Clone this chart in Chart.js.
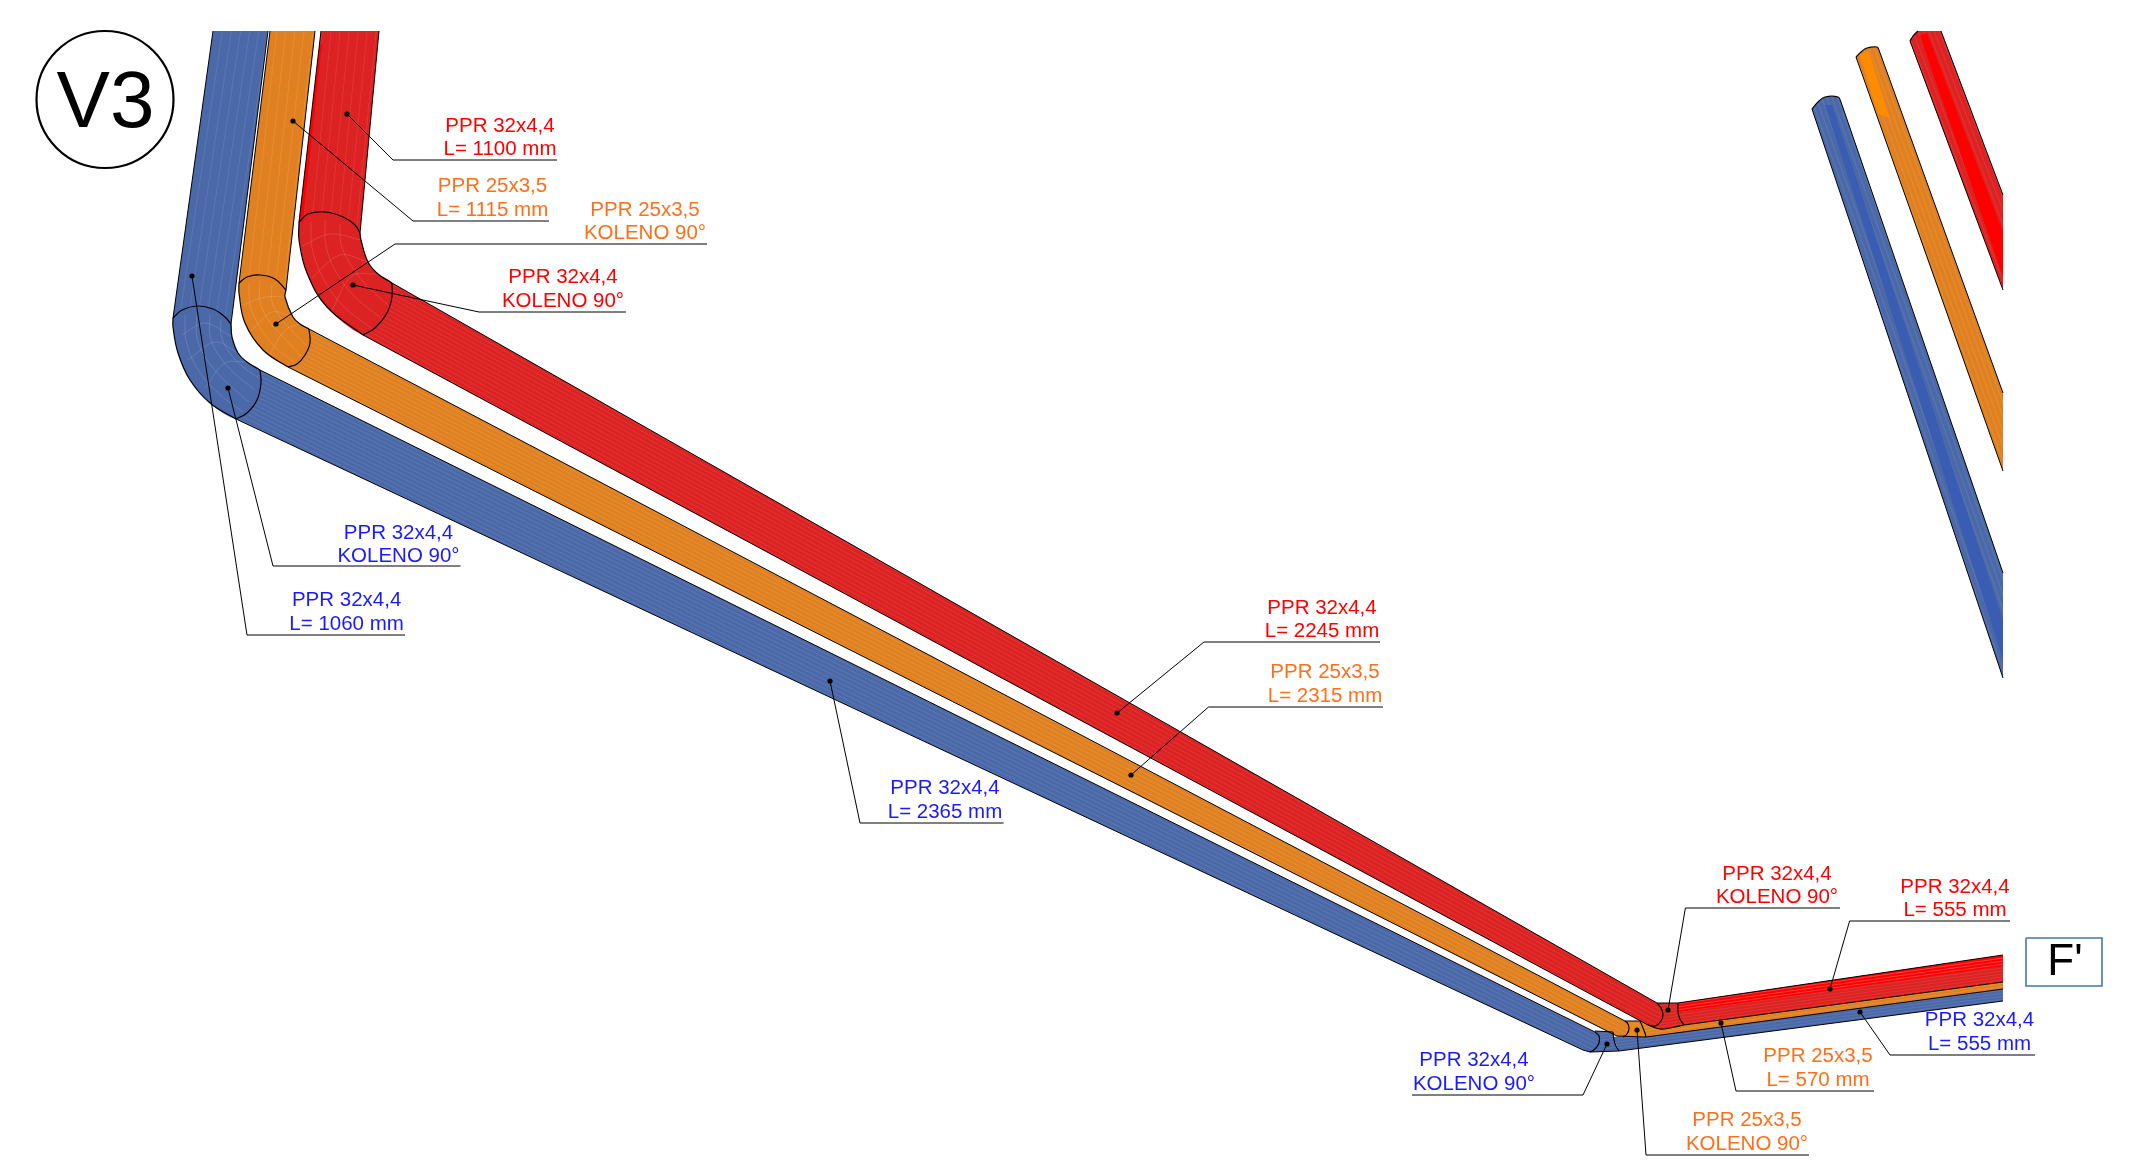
<!DOCTYPE html>
<html><head><meta charset="utf-8">
<style>html,body{margin:0;padding:0;background:#fff}canvas{display:block}</style>
<script src="https://cdn.jsdelivr.net/npm/chart.js@4/dist/chart.umd.min.js"></script>
</head><body><canvas id="c" width="2146" height="1163"></canvas>
<script>
// ---- label texts
const labelLine1 = ["PPR 32x4,4","PPR 25x3,5","PPR 25x3,5","PPR 32x4,4","PPR 32x4,4","PPR 32x4,4","PPR 32x4,4","PPR 25x3,5","PPR 32x4,4","PPR 32x4,4","PPR 32x4,4","PPR 32x4,4","PPR 25x3,5","PPR 32x4,4","PPR 25x3,5"];
const labelLine2 = ["L= 1100 mm","L= 1115 mm","KOLENO 90°","KOLENO 90°","KOLENO 90°","L= 1060 mm","L= 2245 mm","L= 2315 mm","L= 2365 mm","KOLENO 90°","L= 555 mm","L= 555 mm","L= 570 mm","KOLENO 90°","KOLENO 90°"];
const labelKind  = ["red","orange","orange","red","blue","blue","red","orange","blue","red","red","blue","orange","blue","orange"];
const labelCentreX = [500,492.5,645,563,398.5,346.6,1322,1325,945,1777,1955,1979.5,1818,1474,1747];
const labelBase1Y  = [132,192,215.5,283,539,606,613.5,678,793.5,880,893,1026,1062,1066,1126];
const labelBase2Y  = [155,216,239,307,562,630,637,702,818,903,916,1050,1086,1090,1150];
// ---- leaders: dot -> knee -> end of underline
const leaderDots  = [[347,114],[293,121],[276,324],[353,285],[228,388],[192,276],[1117,713],[1131,775],[830,681],[1668,1010],[1830,989],[1860,1012],[1721,1023],[1607,1044],[1637,1030]];
const leaderKnees = [[393,160],[413,221],[395,244],[479,312],[273,566],[247,635],[1204,642],[1208.5,707],[860,823],[1685.4,908],[1849.6,921],[1890,1055],[1736,1091],[1583,1095],[1646,1155]];
const leaderEnds  = [[557,160],[549,221],[707,244],[626,312],[460.5,566],[405,635],[1380,642],[1383,707],[1003.5,823],[1840,908],[2010,921],[2035,1055],[1874,1091],[1412,1095],[1809,1155]];
// ---- pipe outlines
const blueTop  = [[213,31],[268,31],[231,324],[225,317],[213,309],[197,306],[182,310],[173,318]];
const orangeTop= [[270,31],[315,31],[286,290],[275,279],[260,275],[247,277],[239,283]];
const redTop   = [[321,31],[379,31],[360,233],[355,225],[343,217],[325,212],[308,214],[299,222]];
const blueBend  = [[173,318],[182,310],[197,306],[213,309],[225,317],[231,324],[232,337],[238,353],[247,362],[260,370],[261,383],[257,400],[247,413],[236,419],[210,403],[190,380],[178,353],[173,327]];
const orangeBend= [[239,283],[247,277],[260,275],[275,279],[286,290],[285,297],[293,317],[300,324],[309,329],[310,343],[305,355],[297,364],[288,367],[263,350],[245,323],[239,293]];
const redBend   = [[299,222],[308,214],[325,212],[343,217],[355,225],[360,233],[361,240],[368,262],[378,274],[392,283],[392,297],[387,313],[375,328],[363,335],[327,307],[307,273],[299,240]];
const blueDiag  = [[260,370],[1595,1032],[1599,1036],[1599,1043],[1595,1049],[1590,1052],[1583,1050],[236,419],[247,413],[257,400],[261,383]];
const orangeDiag= [[309,329],[1625,1021],[1628,1024],[1629,1029],[1627,1034],[1623,1037],[1617,1036],[288,367],[297,364],[305,355],[310,343]];
const redDiag   = [[392,283],[1657,1003],[1661,1008],[1663,1014],[1661,1021],[1655,1026],[1648,1025],[363,335],[375,328],[387,313],[392,297]];
const blueElbow  = [[1583,1050],[1595,1031],[1613,1032],[1614,1040],[1616,1046],[1619,1051],[1590,1052]];
const orangeElbow= [[1617,1036],[1625,1021],[1640,1021],[1643,1028],[1645,1033],[1646,1037]];
const redElbow   = [[1648,1025],[1657,1003],[1678,1003],[1678,1012],[1680,1019],[1684,1025],[1670,1028],[1660,1029]];
const blueRun  = [[1613,1037],[2003,989],[2003,1001],[1619,1051]];
const orangeRun= [[1640,1021],[1684,1025],[2003,982],[2003,989],[1646,1037]];
const redRun   = [[1678,1003],[2003,955],[2003,982],[1684,1025],[1680,1019],[1678,1012]];
const blueFar  = [[1812,109],[1818,102],[1825,97],[1838,97],[1841,102],[2003,573],[2003,678]];
const orangeFar= [[1856,57],[1861,52],[1867,48],[1877,47],[1879,50],[2003,393],[2003,471]];
const redFar   = [[1910,41],[1913,36],[1918,31],[1941,31],[2003,195],[2003,290]];
// ---- brighter bands
const redFarBand   = [[1920,36],[1927,33],[2003,232],[2003,277]];
const blueFarBand  = [[1825,105],[1832,105],[2003,620],[2003,660]];
const orangeFarBand= [[1860,56],[1868,50],[1890,118],[1878,114]];
const redRunBand   = [[1678,1003],[2003,955],[2003,966],[1679,1012]];
const redSliver    = [[320,44],[322,44],[303,222],[299,222]];
// ---- black edges (straight)
const straightEdges = [
 [[213,31],[173,318]],[[268,31],[231,324]],[[270,31],[239,283]],[[315,31],[286,290]],[[321,31],[299,222]],[[379,31],[360,233]],
 [[260,370],[1595,1032]],[[236,419],[1583,1050]],[[309,329],[1625,1021]],[[288,367],[1617,1036]],[[392,283],[1657,1003]],[[363,335],[1648,1025]],
 [[1595,1031],[1613,1032]],[[1625,1021],[1640,1021]],[[1657,1003],[1678,1003]],[[1583,1050],[1590,1052],[1619,1051]],[[1617,1036],[1646,1037]],
 [[1619,1051],[2003,1001]],[[1646,1037],[2003,989]],[[1684,1025],[2003,982]],[[1678,1003],[2003,955]],
 [[1841,102],[2003,573]],[[1812,109],[2003,678]],[[1879,50],[2003,393]],[[1856,57],[2003,471]],[[1941,31],[2003,195]],[[1910,41],[2003,290]]
];
// ---- black edges (curved)
const curvedEdges = [
 [[173,318],[182,310],[197,306],[213,309],[225,317],[231,324]],
 [[239,283],[247,277],[260,275],[275,279],[286,290]],
 [[299,222],[308,214],[325,212],[343,217],[355,225],[360,233]],
 [[260,370],[261,383],[257,400],[247,413],[236,419]],
 [[309,329],[310,343],[305,355],[297,364],[288,367]],
 [[392,283],[392,297],[387,313],[375,328],[363,335]],
 [[173,318],[173,327],[178,353],[190,380],[210,403],[236,419]],
 [[231,324],[232,337],[238,353],[247,362],[260,370]],
 [[239,283],[239,293],[245,323],[263,350],[288,367]],
 [[286,290],[285,297],[293,317],[300,324],[309,329]],
 [[299,222],[299,240],[307,273],[327,307],[363,335]],
 [[360,233],[361,240],[368,262],[378,274],[392,283]],
 [[1595,1032],[1599,1036],[1599,1043],[1595,1049],[1590,1052]],
 [[1625,1021],[1628,1024],[1629,1029],[1627,1034],[1623,1037]],
 [[1657,1003],[1661,1008],[1663,1014],[1661,1021],[1655,1026],[1648,1025]],
 [[1613,1032],[1614,1040],[1616,1046],[1619,1051]],
 [[1640,1021],[1643,1028],[1645,1033],[1646,1037]],
 [[1678,1003],[1678,1012],[1680,1019],[1684,1025]],
 [[1648,1025],[1660,1029],[1670,1028],[1684,1025]],
 [[1812,109],[1818,102],[1825,97],[1838,97],[1841,102]],
 [[1856,57],[1861,52],[1867,48],[1877,47],[1879,50]],
 [[1910,41],[1913,36],[1918,31]]
];
// ---- faint mesh of the bends
const bendMesh = [
 [[185,315],[186,340],[197,368],[217,392],[243,412]],[[197,312],[197,338],[207,360],[225,381],[249,402]],[[210,315],[210,336],[218,354],[234,373],[255,390]],[[221,320],[221,335],[229,352],[243,367],[259,378]],
 [[182,335],[205,323],[232,337]],[[188,360],[215,342],[238,353]],[[205,388],[225,363],[247,362]],
 [[249,283],[250,305],[259,326],[275,347],[294,362]],[[260,280],[260,302],[269,321],[285,339],[301,356]],[[272,284],[272,302],[280,317],[293,332],[306,345]],
 [[243,305],[265,297],[285,297]],[[252,330],[272,312],[293,317]],[[270,354],[285,330],[300,324]],
 [[311,222],[312,248],[323,278],[343,306],[371,328]],[[325,220],[326,246],[336,272],[355,297],[381,318]],[[340,224],[341,244],[350,264],[367,286],[388,305]],
 [[302,246],[330,234],[361,240]],[[312,278],[340,255],[368,262]],[[332,310],[352,276],[378,274]]
];
const colours = {red:"#ff0000",orange:"#ff6f1a",blue:"#1a1aff"};
const fills = {red:"#dc2222",orange:"#e08020",blue:"#4b69a9"};

function tile(base, line, angle, spacing){
  const t=document.createElement("canvas"); t.width=4; t.height=spacing;
  const g=t.getContext("2d"); g.fillStyle=base; g.fillRect(0,0,4,spacing);
  g.fillStyle=line; g.fillRect(0,0,4,1);
  const p=document.getElementById("c").getContext("2d").createPattern(t,"repeat");
  p.setTransform(new DOMMatrix().rotate(angle));
  return p;
}
const P = a => a.map(([x,y])=>({x,y}));
const shape=(pts,bg,tension=0)=>({type:"line",data:P(pts),fill:"shape",backgroundColor:bg,borderWidth:0,pointRadius:0,tension});
const stroke=(pts,col,w,tension=0)=>({type:"line",data:P(pts),fill:false,borderColor:col,borderWidth:w,pointRadius:0,tension});

const paint=[];
const pr=(a,s)=>tile(fills.red,"#e13434",a,s), po=(a,s)=>tile(fills.orange,"#e38e34",a,s), pb=(a,s)=>tile(fills.blue,"#5a76b1",a,s);
paint.push(shape(blueFar,pb(70.5,5)),shape(blueFarBand,"#3a5cb2"));
paint.push(shape(orangeFar,po(70,5)),shape(orangeFarBand,"#ff8c00"));
paint.push(shape(redFar,pr(69,5)),shape(redFarBand,"#ff0000"));
paint.push(shape(blueRun,pb(-7.2,3)),shape(orangeRun,po(-7.5,3)),shape(redRun,pr(-7.7,3)),shape(redRunBand,tile("#ff0000","#ff3c3c",-8,3)));
paint.push(shape(blueElbow,pb(-7,3)),shape(orangeElbow,"#e8891e"),shape(redElbow,pr(-7,3)));
paint.push(shape(blueBend,fills.blue,.35),shape(orangeBend,fills.orange,.35),shape(redBend,fills.red,.35));
bendMesh.forEach(m=>paint.push(stroke(m,"rgba(255,255,255,.17)",.8,.35)));
paint.push(shape(blueTop,pb(98.5,9)),shape(orangeTop,po(96.4,9)),shape(redTop,pr(95.7,9)),shape(redSliver,"#ff0000"));
paint.push(shape(blueDiag,pb(26.5,4)),shape(orangeDiag,po(27.2,4)),shape(redDiag,pr(28.8,4)));
straightEdges.forEach(e=>paint.push(stroke(e,"#000",1)));
curvedEdges.forEach(e=>paint.push(stroke(e,"#000",1.2,.4)));
leaderDots.forEach((d,i)=>paint.push(stroke([d,leaderKnees[i],leaderEnds[i]],"#000",1)));
paint.push({type:"scatter",data:P(leaderDots),pointRadius:2.6,pointBackgroundColor:"#000",pointBorderWidth:0,showLine:false});
paint.push({type:"scatter",data:P([[105,99.5]]),pointRadius:68.5,pointBackgroundColor:"rgba(0,0,0,0)",pointBorderColor:"#000",pointBorderWidth:2.2,showLine:false});
paint.push(stroke([[2026,938],[2102,938],[2102,986],[2026,986],[2026,938]],"#4a76a8",1.6));

const textPlugin={id:"texts",afterDraw(ch){
  const g=ch.ctx,X=ch.scales.x,Y=ch.scales.y;
  g.save(); g.textAlign="center"; g.textBaseline="alphabetic";
  g.font='20.5px "Liberation Sans"';
  labelLine1.forEach((t,i)=>{
    g.fillStyle=colours[labelKind[i]];
    g.fillText(t,X.getPixelForValue(labelCentreX[i]),Y.getPixelForValue(labelBase1Y[i]));
    g.fillText(labelLine2[i],X.getPixelForValue(labelCentreX[i]),Y.getPixelForValue(labelBase2Y[i]));
  });
  g.fillStyle="#000";
  g.font='80px "Liberation Sans"'; g.fillText("V3",X.getPixelForValue(105.5),Y.getPixelForValue(127));
  g.font='44px "Liberation Sans"'; g.fillText("F'",X.getPixelForValue(2065),Y.getPixelForValue(975));
  g.restore();
}};
new Chart(document.getElementById("c"),{
  data:{datasets:paint.map((d,i)=>({...d,order:paint.length-i,clip:false}))},
  options:{responsive:false,animation:false,devicePixelRatio:1,
    layout:{padding:0,autoPadding:false},
    events:[],
    plugins:{legend:{display:false},tooltip:{enabled:false}},
    scales:{x:{type:"linear",min:0,max:2146,display:false},y:{type:"linear",min:0,max:1163,reverse:true,display:false}}},
  plugins:[textPlugin]
});
</script></body></html>
